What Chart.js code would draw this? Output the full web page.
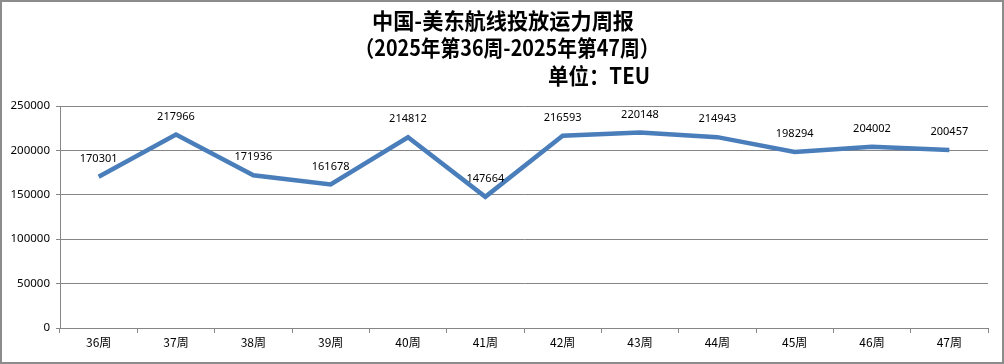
<!DOCTYPE html>
<html>
<head>
<meta charset="utf-8">
<script src="https://cdn.jsdelivr.net/npm/chart.js@4/dist/chart.umd.min.js"></script>
<style>
  html, body { margin: 0; padding: 0; background: #fff; }
  #wrap { width: 1004px; height: 364px; position: relative; }
</style>
</head>
<body>
<div id="wrap"><canvas id="chart" width="1004" height="364"></canvas></div>
<script>
// chart data
const weeks = ['36周', '37周', '38周', '39周', '40周', '41周', '42周', '43周', '44周', '45周', '46周', '47周'];
const capacity = [170301, 217966, 171936, 161678, 214812, 147664, 216593, 220148, 214943, 198294, 204002, 200457];
const titleLines = ['中国-美东航线投放运力周报', '（2025年第36周-2025年第47周）'];
const unitText = '单位：TEU';

// title + outer border
const titlePlugin = {
  id: 'titleBlock',
  beforeDraw(chart) {
    const ctx = chart.ctx;
    ctx.save();
    ctx.fillStyle = '#fff';
    ctx.fillRect(0, 0, chart.width, chart.height);
    ctx.strokeStyle = '#8c8c8c';
    ctx.lineWidth = 2;
    ctx.strokeRect(1, 1, chart.width - 2, chart.height - 2);
    ctx.fillStyle = '#000';
    ctx.textBaseline = 'middle';
    ctx.font = 'bold 22px "Noto Sans CJK SC"';
    ctx.textAlign = 'center';
    // the original title uses a narrow font, squeeze to the same width
    ctx.fillText(titleLines[0], 503, 21, 262);
    ctx.fillText(titleLines[1], 507, 48, 305);
    ctx.textAlign = 'left';
    ctx.fillText(unitText, 548, 76, 102);
    ctx.restore();
  }
};

// value labels above each point
const labelPlugin = {
  id: 'pointLabels',
  afterDatasetsDraw(chart) {
    const ctx = chart.ctx;
    const meta = chart.getDatasetMeta(0);
    ctx.save();
    ctx.font = '11px "Noto Sans"';
    ctx.fillStyle = '#000';
    ctx.textAlign = 'center';
    ctx.textBaseline = 'middle';
    meta.data.forEach((pt, i) => {
      ctx.fillText(String(capacity[i]), pt.x, pt.y - 18);
    });
    ctx.restore();
  }
};

const ctx = document.getElementById('chart').getContext('2d');
new Chart(ctx, {
  type: 'line',
  data: {
    labels: weeks,
    datasets: [{
      data: capacity,
      borderColor: '#4a7ebb',
      borderWidth: 4.5,
      pointRadius: 0,
      pointHoverRadius: 0,
      tension: 0,
      fill: false
    }]
  },
  options: {
    responsive: false,
    animation: false,
    layout: { padding: { top: 106, right: 16, bottom: 0, left: 0 } },
    plugins: {
      legend: { display: false },
      tooltip: { enabled: false },
      title: { display: false }
    },
    scales: {
      x: {
        offset: true,
        grid: { offset: true, drawOnChartArea: false, drawTicks: true, tickLength: 5, color: '#868686' },
        border: { color: '#868686', width: 1 },
        ticks: { color: '#000', font: { family: '"Noto Sans CJK SC"', size: 12 }, padding: 2, maxRotation: 0 },
        afterFit(scale) { scale.height = 36; }
      },
      y: {
        min: 0,
        max: 250000,
        grid: { color: '#868686', tickLength: 4 },
        border: { color: '#868686', width: 1 },
        ticks: {
          stepSize: 50000,
          color: '#000',
          font: { family: '"Noto Sans"', size: 11.5 },
          padding: 6,
          callback: v => String(v)
        },
        afterFit(scale) { scale.width = 60; }
      }
    }
  },
  plugins: [titlePlugin, labelPlugin]
});
</script>
</body>
</html>
